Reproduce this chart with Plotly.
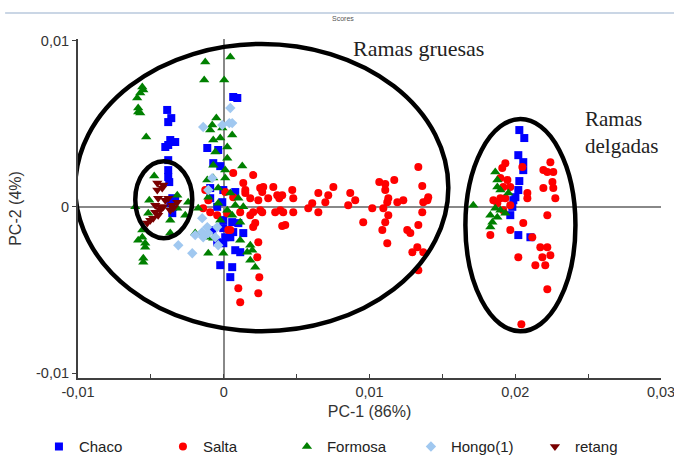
import plotly.graph_objects as go

# ---- data (PC-1, PC-2 scores) ----
chaco_x = [0.02028, 0.02062, 0.02021, 0.02055, 0.02055, 0.02028, 0.02021, 0.02001, 0.01987, 0.0198,
           0.01966, 0.02021, 0.02104,
           -0.00388, -0.0036, -0.00381, -0.00367, -0.00333, -0.00381, -0.00401, -0.00381, -0.00381,
           -0.00381, -0.00374, -0.00353, -0.00333, -0.00347, -0.00353, -0.00367,
           0.00065, 0.00093, -0.00113, -0.00038, -0.00072, -0.00024, -0.00093, -0.00003, 0.00079,
           -0.00093, -0.0001, -0.00045, -0.00003, 0.00058, 0.001, -0.00003, 0.00065, 0.00134, 0.0001,
           0.00045, -0.00045, -0.00003, 0.00079, 0.00113, -0.00024, 0.00058, 0.00045, -0.00079]
chaco_y = [0.00462, 0.00414, 0.00311, 0.00269, 0.00221, 0.00155, 0.00101, 0.00058, 0.0004, 0.0,
           -0.0005, -0.0017, -0.00183,
           0.00583, 0.00534, 0.0051, 0.00402, 0.0039, 0.00372, 0.0036, 0.00281, 0.00221,
           0.00179, 0.00149, 0.00052, 0.0004, 0.0, -0.00038, 0.00022,
           0.00661, 0.00655, 0.00354, 0.00342, 0.00263, 0.00245, 0.00113, 0.00101, 0.00089,
           0.00052, 0.00028, 0.0, -0.0008, -0.00092, -0.00098, -0.00128, -0.00152, -0.00158, -0.00183,
           -0.00183, -0.00213, -0.00219, -0.00261, -0.00273, -0.00351, -0.00363, -0.00423, -0.0014]

salta_x = [0.01335, 0.01067, 0.0117, 0.01108, 0.01362, 0.00752, 0.00868, 0.01108, 0.01129, 0.01122,
           0.01232, 0.01191, 0.01403, 0.01397, 0.01369, 0.01362, 0.01095, 0.01019, 0.00902, 0.00854,
           0.01129, 0.01108, 0.00957, 0.01088, 0.01335, 0.01259, 0.0128, 0.01122, 0.01328, 0.01294,
           0.01369, 0.01335, 0.00717, 0.00697, 0.00649, 0.00607, 0.0058, 0.00649, 0.0047, 0.00477,
           0.00401, 0.00381, 0.00408, 0.00388, 0.00477, 0.00401, 0.00422, 0.0034, 0.00305, 0.0025,
           0.00264, 0.00202, 0.00134, 0.00065, -0.00127, 0.00237, 0.0025, 0.00202, 0.00216, 0.00237,
           0.0023, 0.00244, 0.00045, 0.00148, -0.00093, 0.00148, 0.00271, 0.0001, 0.00065, 0.00182,
           0.00367, -0.00106, -0.00141, -0.00045, 0.00024, 0.00113, 0.00182, 0.00264, 0.00353, 0.00202,
           0.00031, 0.001, 0.00237, 0.00113,
           0.01932, 0.01911, 0.02049, 0.02241, 0.02193, 0.0222, 0.02261, 0.01898, 0.01946, 0.01966,
           0.01918, 0.02255, 0.02261, 0.02193, 0.02275, 0.02083, 0.02083, 0.0185, 0.01898, 0.01932,
           0.01877, 0.01966, 0.01918, 0.0222, 0.02055, 0.01966, 0.01829, 0.02117, 0.02172, 0.0222,
           0.02241, 0.02186, 0.02021, 0.02138, 0.02206, 0.0222, 0.02042]
salta_y = [0.00239, 0.00149, 0.00161, 0.00137, 0.00125, 0.00119, 0.00083, 0.00101, 0.00052, 0.00028,
           0.0004, 0.00028, 0.00058, 0.0004, 0.00028, -0.00032, -0.00008, -0.00008, 0.0004, 0.0001,
           -0.0005, -0.00092, -0.00092, -0.0014, -0.0011, -0.0014, -0.00158, -0.00219, -0.00243, -0.00273,
           -0.00273, -0.00381, 0.0007, 0.00028, -0.00032, 0.00022, -0.00008, 0.00083, 0.00101, 0.00052,
           0.0007, 0.00052, -0.00032, -0.0002, -0.00032, -0.00116, -0.0011, 0.00119, 0.00052, 0.00113,
           0.00089, 0.00191, 0.00143, 0.00203, 0.00101, 0.0004, -0.0002, -0.00032, -0.00098, -0.00213,
           -0.00303, -0.00423, -0.0014, 0.00083, -0.00032, 0.00101, 0.00119, 0.00089, 0.00058, 0.00052,
           0.0007, 0.0004, -0.00008, -0.0005, -0.00038, -0.00032, -0.0005, -0.00032, -0.00032, -0.00122,
           -0.0014, -0.0049, -0.0052, -0.00574,
           0.00263, 0.00233, 0.00239, 0.00269, 0.00221, 0.00209, 0.00209, 0.00173, 0.00161, 0.00119,
           0.00119, 0.00149, 0.00113, 0.00113, 0.00052, 0.00083, 0.00052, 0.0004, 0.00052, 0.00052,
           0.00022, 0.0001, -0.0002, -0.0005, -0.00098, -0.0014, -0.0017, -0.00183, -0.00243, -0.00243,
           -0.00291, -0.00303, -0.00303, -0.00351, -0.00351, -0.00496, -0.00707]

formosa_x = [0.01712, 0.01863, 0.01877, 0.01877, 0.01898, 0.01953, 0.01863, 0.01898, 0.01829, 0.01877,
             0.01932, 0.01843, 0.01829,
             -0.00559, -0.00552, -0.00573, -0.00594, -0.00587, -0.00587, -0.00573, -0.00532, -0.00477,
             -0.00319, -0.00244, -0.00511, -0.00607, -0.00518, -0.00319, -0.00367, -0.00367, -0.00559,
             -0.00559, -0.00587, -0.00539, -0.00539, -0.00552, -0.00552, -0.00264, -0.00175,
             -0.00127, 0.00045, -0.00134, 0.00003, -0.00051, -0.00079, -0.00093, -0.0001, 0.00058,
             -0.00072, -0.00024, 0.00024, -0.00058, 0.00024, -0.00072, 0.00127, 0.0001, -0.00072,
             -0.00113, 0.0001, -0.00038, 0.00045, -0.00106, 0.001, -0.00038, 0.00079, 0.00134, 0.00024,
             0.00058, -0.00024, 0.00113, -0.00196, -0.00113, -0.00072, 0.00113, 0.00182, 0.00196,
             -0.00106, -0.00003, 0.00161, 0.00182, 0.00216]
formosa_y = [0.0001, 0.00209, 0.00161, 0.00119, 0.00101, 0.00083, -0.00008, -0.0002, -0.0005, -0.00062,
             -0.00038, -0.00092, -0.00122,
             0.00721, 0.00703, 0.00685, 0.00655, 0.00595, 0.0057, 0.00564, 0.0042, 0.00185,
             0.0007, 0.00028, 0.0004, 0.0, -0.00038, -0.00008, -0.0008, -0.00158, -0.0014,
             -0.00183, -0.00201, -0.00219, -0.00243, -0.00309, -0.00333, -0.0005, -0.00008,
             0.00872, 0.00902, 0.00763, 0.00763, 0.00534, 0.00492, 0.00462, 0.00474, 0.00432,
             0.00402, 0.00414, 0.0036, 0.0033, 0.00293, 0.00251, 0.00245, 0.00221, 0.00173,
             0.00161, 0.00173, 0.00113, 0.00083, 0.00058, 0.00052, 0.00022, 0.0001, 0.0, -0.0002,
             -0.0005, -0.0008, -0.00092, -0.00158, -0.00183, -0.00189, -0.00201, -0.00231, -0.00261,
             -0.00279, -0.00279, -0.00273, -0.00321, -0.00363]

hongo_x = [0.00045, -0.00141, 0.00038, 0.00058, -0.0001, -0.00079, -0.00106, -0.00148, -0.00113,
           -0.00148, -0.00106, -0.00058, -0.00045, -0.00216, -0.00038, -0.00141, -0.00312, -0.00196]
hongo_y = [0.00595, 0.0048, 0.00504, 0.00504, 0.00492, 0.00173, 0.00101, -0.00068, -0.00122,
           -0.00152, -0.00158, -0.00183, -0.00122, -0.00279, -0.00231, -0.00183, -0.00231, -0.0017]

retang_x = [-0.00456, -0.00415, -0.00456, -0.00422, -0.0045, -0.00381, -0.00401, -0.0047, -0.00436,
            -0.00415, -0.00353, -0.00319, -0.00436, -0.0047, -0.0045, -0.00484, -0.00504, -0.00525,
            -0.00367, -0.00347]
retang_y = [0.00143, 0.00131, 0.00101, 0.00113, 0.00052, 0.00052, 0.0004, 0.0001, 0.0, 0.0,
            0.0001, 0.00028, -0.0002, -0.00032, -0.0005, -0.00068, -0.0008, -0.00098, -0.0002, -0.00008]

x_tickvals = [-0.01, 0, 0.01, 0.02, 0.03]
x_ticktext = ["-0,01", "0", "0,01", "0,02", "0,03"]
y_tickvals = [-0.01, 0, 0.01]
y_ticktext = ["-0,01", "0", "0,01"]

series = [
    ("Chaco", chaco_x, chaco_y, "square", "#0000FF", 8),
    ("Salta", salta_x, salta_y, "circle", "#FF0000", 8),
    ("Formosa", formosa_x, formosa_y, "triangle-up", "#008000", 9),
    ("Hongo(1)", hongo_x, hongo_y, "diamond", "#A0C8F0", 8),
    ("retang", retang_x, retang_y, "triangle-down", "#7A0000", 9),
]

fig = go.Figure()
for name, xs, ys, sym, col, sz in series:
    fig.add_trace(go.Scatter(x=xs, y=ys, mode="markers", name=name,
                             marker=dict(symbol=sym, color=col, size=sz, line=dict(width=0))))

font = "Liberation Sans, Arial, sans-serif"
fig.update_layout(
    width=674, height=457,
    margin=dict(l=78, r=13, t=39, b=79, autoexpand=False),
    paper_bgcolor="white", plot_bgcolor="white",
    font=dict(family=font, size=13, color="#333333"),
    showlegend=True,
    legend=dict(orientation="h", xref="paper", x=-0.067, xanchor="left",
                yref="paper", y=-0.203, yanchor="middle",
                font=dict(size=15, color="#222222"),
                entrywidth=79, entrywidthmode="pixels"),
    xaxis=dict(range=[-0.01, 0.03], tickvals=x_tickvals, ticktext=x_ticktext, automargin=False,
               tickfont=dict(size=14.5), ticklabeloverflow="allow",
               showline=True, linecolor="#404040", linewidth=2, ticks="inside", ticklen=4,
               tickcolor="#404040", showgrid=False, zeroline=True, zerolinecolor="#888888",
               zerolinewidth=2, title=dict(text="PC-1 (86%)", standoff=6),
               minor=dict(tickvals=[-0.005, 0.005, 0.015, 0.025], ticks="inside", ticklen=4,
                          tickcolor="#404040")),
    yaxis=dict(range=[-0.0103, 0.0101], tickvals=y_tickvals, ticktext=y_ticktext, automargin=False,
               tickfont=dict(size=14.5), ticklabeloverflow="allow",
               showline=True, linecolor="#404040", linewidth=2, ticks="outside", ticklen=4,
               tickcolor="#404040", showgrid=False, zeroline=True, zerolinecolor="#888888",
               zerolinewidth=2, title=dict(text="PC-2 (4%)", standoff=10)),
    shapes=[
        dict(type="circle", xref="x", yref="y", x0=-0.01019, x1=0.01541, y0=-0.00749, y1=0.0098,
             line=dict(color="black", width=4.5)),
        dict(type="circle", xref="x", yref="y", x0=-0.00607, x1=-0.00216, y0=-0.00189, y1=0.00275,
             line=dict(color="black", width=4.5)),
        dict(type="circle", xref="x", yref="y", x0=0.01658, x1=0.02413, y0=-0.00749, y1=0.00528,
             line=dict(color="black", width=4.5)),
        dict(type="line", xref="paper", yref="paper", x0=-0.125, x1=1.03, y0=1.0767, y1=1.0767,
             line=dict(color="#B8C8DC", width=1.5)),
    ],
    annotations=[
        dict(text="Scores", xref="paper", yref="paper", x=0.455, y=1.06, xanchor="center",
             yanchor="middle", showarrow=False, font=dict(size=7, color="#555555")),
        dict(text="Ramas gruesas", xref="paper", yref="paper", x=0.468, y=0.973, xanchor="left",
             yanchor="middle", showarrow=False,
             font=dict(family="Liberation Serif, serif", size=22, color="#222222")),
        dict(text="Ramas<br>delgadas", xref="paper", yref="paper", x=0.866, y=0.723,
             xanchor="left", yanchor="middle", align="left", showarrow=False,
             font=dict(family="Liberation Serif, serif", size=21, color="#222222")),
    ],
)

fig.write_html("out.html", config={"displayModeBar": False},
               post_script="document.body.style.margin='0';document.body.style.overflow='hidden';")
